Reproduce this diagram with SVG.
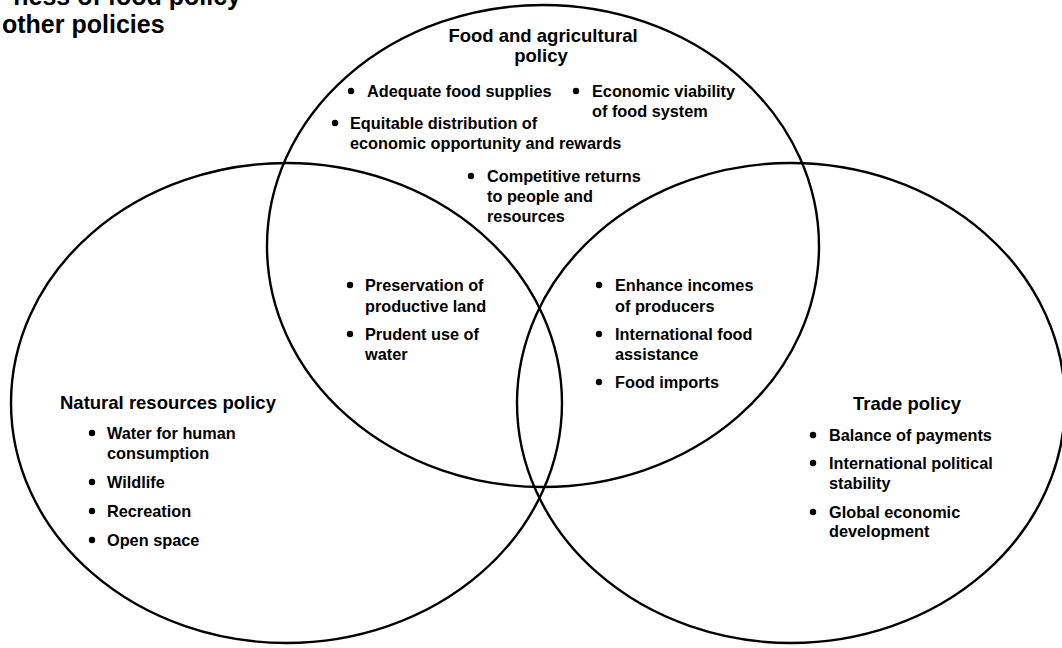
<svg xmlns="http://www.w3.org/2000/svg" width="1062" height="648" viewBox="0 0 1062 648">
<style>
.c{fill:none;stroke:#000;stroke-width:2.4}
.h{font-family:"Liberation Sans",Arial,sans-serif;font-weight:bold;font-size:18.5px;fill:#000}
.t{font-family:"Liberation Sans",Arial,sans-serif;font-weight:bold;font-size:16.3px;fill:#000}
.ti{font-family:"Liberation Sans",Arial,sans-serif;font-weight:bold;font-size:25px;fill:#000}
.b{fill:#000}
</style>
<rect width="1062" height="648" fill="#fff"/>
<g id="title">
<text class="ti" x="241" y="5" text-anchor="end">ness of food policy</text>
<text class="ti" x="2" y="33">other policies</text>
</g>
<g id="food">
<ellipse class="c" cx="543" cy="246" rx="276" ry="241"/>
<text class="h" x="543" y="42" text-anchor="middle">Food and agricultural</text>
<text class="h" x="541" y="62" text-anchor="middle">policy</text>
<circle class="b" cx="351" cy="91" r="3.2"/>
<text class="t" x="367" y="97">Adequate food supplies</text>
<circle class="b" cx="576" cy="91" r="3.2"/>
<text class="t" x="592" y="97">Economic viability</text>
<text class="t" x="592" y="117">of food system</text>
<circle class="b" cx="335" cy="123" r="3.2"/>
<text class="t" x="350" y="129">Equitable distribution of</text>
<text class="t" x="350" y="149">economic opportunity and rewards</text>
<circle class="b" cx="471" cy="176" r="3.2"/>
<text class="t" x="487" y="182">Competitive returns</text>
<text class="t" x="487" y="202">to people and</text>
<text class="t" x="487" y="222">resources</text>
</g>
<g id="natural">
<ellipse class="c" cx="286.5" cy="403" rx="275.5" ry="240"/>
<text class="h" x="60" y="409">Natural resources policy</text>
<circle class="b" cx="92" cy="433" r="3.2"/>
<text class="t" x="107" y="439">Water for human</text>
<text class="t" x="107" y="459">consumption</text>
<circle class="b" cx="92" cy="482" r="3.2"/>
<text class="t" x="107" y="488">Wildlife</text>
<circle class="b" cx="92" cy="511" r="3.2"/>
<text class="t" x="107" y="517">Recreation</text>
<circle class="b" cx="92" cy="540" r="3.2"/>
<text class="t" x="107" y="546">Open space</text>
</g>
<g id="trade">
<ellipse class="c" cx="791" cy="403" rx="274" ry="240"/>
<text class="h" x="853" y="410">Trade policy</text>
<circle class="b" cx="813" cy="435" r="3.2"/>
<text class="t" x="829" y="441">Balance of payments</text>
<circle class="b" cx="813" cy="463" r="3.2"/>
<text class="t" x="829" y="469">International political</text>
<text class="t" x="829" y="489">stability</text>
<circle class="b" cx="813" cy="512" r="3.2"/>
<text class="t" x="829" y="518">Global economic</text>
<text class="t" x="829" y="537">development</text>
</g>
<g id="food-natural">
<circle class="b" cx="350" cy="285" r="3.2"/>
<text class="t" x="365" y="291">Preservation of</text>
<text class="t" x="365" y="312">productive land</text>
<circle class="b" cx="350" cy="334" r="3.2"/>
<text class="t" x="365" y="340">Prudent use of</text>
<text class="t" x="365" y="360">water</text>
</g>
<g id="food-trade">
<circle class="b" cx="599" cy="285" r="3.2"/>
<text class="t" x="615" y="291">Enhance incomes</text>
<text class="t" x="615" y="312">of producers</text>
<circle class="b" cx="599" cy="334" r="3.2"/>
<text class="t" x="615" y="340">International food</text>
<text class="t" x="615" y="360">assistance</text>
<circle class="b" cx="599" cy="382" r="3.2"/>
<text class="t" x="615" y="388">Food imports</text>
</g>
<g id="connectors"></g>
</svg>
